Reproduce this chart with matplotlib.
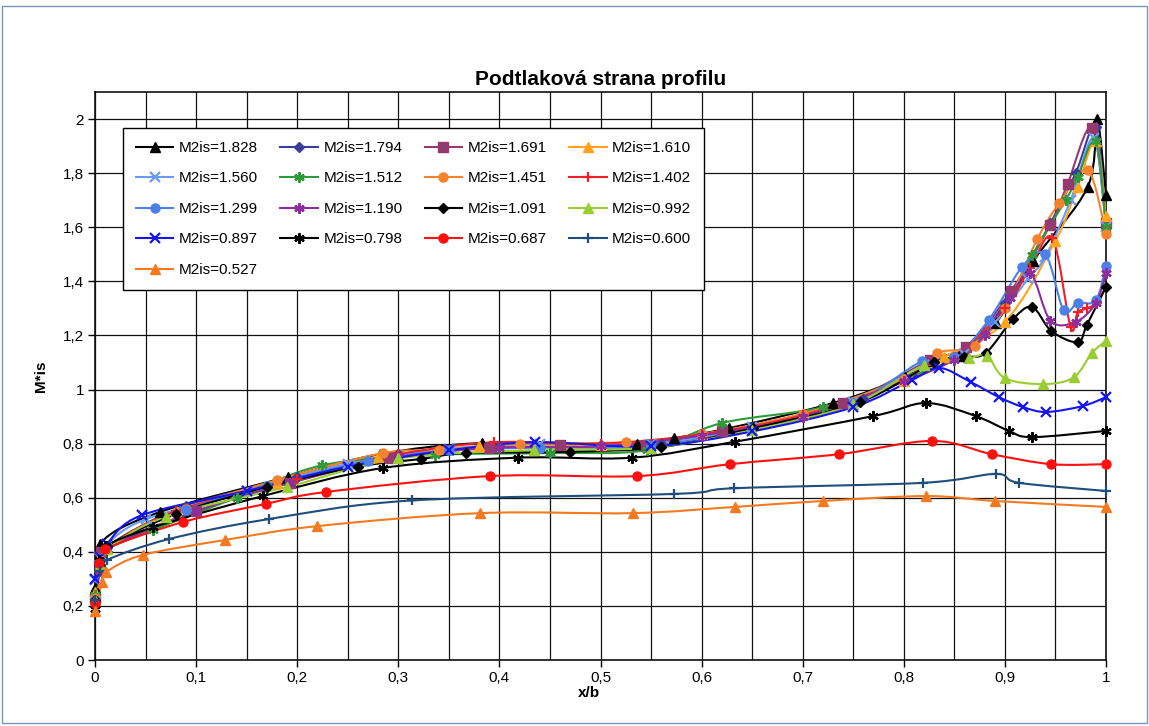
import numpy as np
import matplotlib
matplotlib.use("Agg")
import matplotlib.pyplot as plt
from matplotlib.path import Path
from matplotlib.patches import PathPatch, Rectangle
from matplotlib.lines import Line2D
from matplotlib.ticker import MultipleLocator, FuncFormatter

plt.rcParams['font.family'] = ['Liberation Sans', 'DejaVu Sans']

# ---- measured Mach number distributions (suction side) ----
x_1828 = [0, 0.005, 0.064, 0.191, 0.282, 0.383, 0.536, 0.573, 0.627, 0.73, 0.801, 0.828, 0.855, 0.891, 0.928, 0.982, 0.991, 1.0]
y_1828 = [0.265, 0.43, 0.547, 0.677, 0.761, 0.802, 0.8, 0.82, 0.857, 0.95, 1.046, 1.105, 1.124, 1.245, 1.475, 1.75, 2.0, 1.72]

x_1794 = [0, 0.005, 0.012, 0.09, 0.2, 0.3, 0.4, 0.5, 0.56, 0.65, 0.76, 0.83, 0.86, 0.9, 0.945, 0.97, 0.99, 1.0]
y_1794 = [0.22, 0.345, 0.42, 0.57, 0.675, 0.76, 0.79, 0.795, 0.8, 0.86, 0.965, 1.1, 1.13, 1.32, 1.615, 1.8, 1.97, 1.61]

x_1691 = [0, 0.006, 0.1, 0.193, 0.29, 0.39, 0.46, 0.545, 0.62, 0.74, 0.826, 0.862, 0.906, 0.945, 0.962, 0.986, 1.0]
y_1691 = [0.23, 0.40, 0.55, 0.655, 0.745, 0.785, 0.795, 0.795, 0.845, 0.95, 1.109, 1.157, 1.364, 1.61, 1.76, 1.967, 1.615]

x_1610 = [0, 0.005, 0.012, 0.08, 0.18, 0.28, 0.38, 0.5, 0.6, 0.7, 0.8, 0.84, 0.9, 0.95, 0.972, 0.99, 1.0]
y_1610 = [0.25, 0.35, 0.41, 0.55, 0.655, 0.75, 0.79, 0.795, 0.835, 0.91, 1.03, 1.12, 1.25, 1.55, 1.75, 1.92, 1.64]

x_1560 = [0, 0.004, 0.012, 0.05, 0.15, 0.25, 0.35, 0.44, 0.55, 0.65, 0.75, 0.82, 0.86, 0.89, 0.923, 0.94, 0.965, 0.988, 1.0]
y_1560 = [0.295, 0.38, 0.43, 0.52, 0.625, 0.725, 0.78, 0.8, 0.8, 0.86, 0.955, 1.09, 1.13, 1.25, 1.41, 1.49, 1.7, 1.93, 1.6]

x_1512 = [0, 0.005, 0.012, 0.057, 0.14, 0.225, 0.336, 0.45, 0.546, 0.62, 0.72, 0.8, 0.85, 0.9, 0.927, 0.96, 0.972, 0.99, 1.0]
y_1512 = [0.24, 0.36, 0.41, 0.48, 0.6, 0.72, 0.758, 0.765, 0.776, 0.876, 0.935, 1.04, 1.12, 1.3, 1.497, 1.7, 1.785, 1.92, 1.6]

x_1451 = [0, 0.005, 0.012, 0.09, 0.18, 0.285, 0.34, 0.42, 0.525, 0.6, 0.7, 0.8, 0.833, 0.87, 0.9, 0.932, 0.954, 0.982, 1.0]
y_1451 = [0.23, 0.37, 0.42, 0.56, 0.665, 0.765, 0.775, 0.8, 0.805, 0.835, 0.91, 1.04, 1.135, 1.16, 1.3, 1.556, 1.69, 1.81, 1.575]

x_1402 = [0, 0.005, 0.012, 0.08, 0.2, 0.3, 0.395, 0.5, 0.6, 0.7, 0.8, 0.85, 0.9, 0.925, 0.947, 0.965, 0.972, 0.981, 0.991, 1.0]
y_1402 = [0.22, 0.36, 0.42, 0.55, 0.67, 0.76, 0.805, 0.8, 0.835, 0.905, 1.03, 1.12, 1.3, 1.45, 1.56, 1.23, 1.285, 1.30, 1.32, 1.38]

x_1299 = [0, 0.005, 0.012, 0.09, 0.17, 0.27, 0.35, 0.44, 0.55, 0.65, 0.75, 0.818, 0.85, 0.884, 0.917, 0.94, 0.958, 0.972, 0.99, 1.0]
y_1299 = [0.22, 0.34, 0.42, 0.555, 0.645, 0.735, 0.775, 0.785, 0.79, 0.855, 0.95, 1.105, 1.12, 1.257, 1.453, 1.5, 1.294, 1.32, 1.33, 1.457]

x_1190 = [0, 0.005, 0.012, 0.1, 0.193, 0.3, 0.4, 0.5, 0.6, 0.7, 0.8, 0.85, 0.88, 0.905, 0.925, 0.945, 0.97, 0.99, 1.0]
y_1190 = [0.21, 0.33, 0.41, 0.55, 0.655, 0.75, 0.785, 0.79, 0.83, 0.9, 1.03, 1.11, 1.2, 1.34, 1.43, 1.255, 1.25, 1.32, 1.43]

x_1091 = [0, 0.005, 0.012, 0.08, 0.17, 0.26, 0.322, 0.367, 0.47, 0.56, 0.651, 0.757, 0.83, 0.86, 0.881, 0.908, 0.927, 0.946, 0.972, 0.981, 1.0]
y_1091 = [0.22, 0.35, 0.42, 0.54, 0.64, 0.715, 0.743, 0.765, 0.77, 0.787, 0.857, 0.954, 1.1, 1.12, 1.135, 1.26, 1.305, 1.216, 1.175, 1.238, 1.38]

x_0992 = [0, 0.005, 0.012, 0.07, 0.19, 0.3, 0.434, 0.55, 0.65, 0.75, 0.82, 0.864, 0.882, 0.9, 0.938, 0.968, 0.986, 1.0]
y_0992 = [0.22, 0.35, 0.41, 0.53, 0.64, 0.745, 0.776, 0.785, 0.85, 0.945, 1.09, 1.115, 1.125, 1.042, 1.02, 1.045, 1.135, 1.18]

x_0897 = [0, 0.005, 0.012, 0.046, 0.15, 0.25, 0.35, 0.435, 0.55, 0.65, 0.75, 0.808, 0.835, 0.866, 0.894, 0.918, 0.941, 0.977, 1.0]
y_0897 = [0.3, 0.38, 0.43, 0.535, 0.625, 0.715, 0.775, 0.805, 0.79, 0.845, 0.935, 1.035, 1.08, 1.028, 0.972, 0.935, 0.917, 0.939, 0.972]

x_0798 = [0, 0.004, 0.01, 0.057, 0.166, 0.285, 0.418, 0.531, 0.633, 0.77, 0.822, 0.871, 0.904, 0.927, 1.0]
y_0798 = [0.19, 0.37, 0.42, 0.49, 0.606, 0.71, 0.748, 0.748, 0.807, 0.902, 0.95, 0.902, 0.847, 0.824, 0.847]

x_0687 = [0, 0.004, 0.01, 0.087, 0.169, 0.228, 0.391, 0.536, 0.628, 0.736, 0.828, 0.887, 0.946, 1.0]
y_0687 = [0.21, 0.36, 0.41, 0.51, 0.577, 0.621, 0.68, 0.68, 0.724, 0.761, 0.81, 0.761, 0.724, 0.724]

x_0600 = [0, 0.005, 0.012, 0.073, 0.172, 0.314, 0.573, 0.632, 0.819, 0.891, 0.914, 1.0]
y_0600 = [0.22, 0.33, 0.37, 0.447, 0.521, 0.59, 0.614, 0.635, 0.655, 0.688, 0.655, 0.625]

x_0527 = [0, 0.007, 0.011, 0.047, 0.129, 0.22, 0.381, 0.532, 0.633, 0.72, 0.822, 0.89, 1.0]
y_0527 = [0.18, 0.29, 0.325, 0.388, 0.444, 0.495, 0.543, 0.543, 0.566, 0.588, 0.606, 0.588, 0.566]

ASTERISK = (6, 2, 0)

series = [
    ("M2is=1.828", x_1828, y_1828, '^', '#000000'),
    ("M2is=1.794", x_1794, y_1794, 'D', '#3B3B9E'),
    ("M2is=1.691", x_1691, y_1691, 's', '#953A6E'),
    ("M2is=1.610", x_1610, y_1610, '^', '#FFA31A'),
    ("M2is=1.560", x_1560, y_1560, 'x', '#6A9BF4'),
    ("M2is=1.512", x_1512, y_1512, ASTERISK, '#2E9A3A'),
    ("M2is=1.451", x_1451, y_1451, 'o', '#F5822F'),
    ("M2is=1.402", x_1402, y_1402, '+', '#F0202A'),
    ("M2is=1.299", x_1299, y_1299, 'o', '#4A80E8'),
    ("M2is=1.190", x_1190, y_1190, ASTERISK, '#8E2E9E'),
    ("M2is=1.091", x_1091, y_1091, 'D', '#000000'),
    ("M2is=0.992", x_0992, y_0992, '^', '#9ACD32'),
    ("M2is=0.897", x_0897, y_0897, 'x', '#1515F0'),
    ("M2is=0.798", x_0798, y_0798, ASTERISK, '#000000'),
    ("M2is=0.687", x_0687, y_0687, 'o', '#FF1010'),
    ("M2is=0.600", x_0600, y_0600, '+', '#1F4E7A'),
    ("M2is=0.527", x_0527, y_0527, '^', '#F47A22'),
]


def smooth_path(xs, ys):
    """Cubic Bezier path through the points (Catmull-Rom style tangents)."""
    p = np.column_stack([xs, ys]).astype(float)
    n = len(p)
    verts = [p[0]]
    codes = [Path.MOVETO]
    for i in range(n - 1):
        p0 = p[i - 1] if i > 0 else p[i]
        p1 = p[i]
        p2 = p[i + 1]
        p3 = p[i + 2] if i + 2 < n else p[i + 1]
        c1 = p1 + (p2 - p0) / 6.0
        c2 = p2 - (p3 - p1) / 6.0
        verts += [c1, c2, p2]
        codes += [Path.CURVE4] * 3
    return Path(verts, codes)


def marker_kw(m, c):
    kw = dict(marker=m, color=c, markersize=6.5, markeredgecolor=c, markerfacecolor=c)
    if m in ('x', '+') or m == ASTERISK:
        kw.update(markersize=7.5, markeredgewidth=1.6)
    if m == 'D':
        kw.update(markersize=5.5)
    return kw


fig = plt.figure(figsize=(11.49, 7.26), dpi=100)
fig.patch.set_facecolor('white')
fig.patches.append(Rectangle((0.002, 0.004), 0.996, 0.988, transform=fig.transFigure,
                             fill=False, edgecolor='#7A96C2', linewidth=1.0))

ax = fig.add_axes([95 / 1149, 1 - 660 / 726, 1011 / 1149, 568 / 726])
ax.set_xlim(0, 1)
ax.set_ylim(0, 2.1)

handles = []
for label, xs, ys, m, c in series:
    ax.add_patch(PathPatch(smooth_path(xs, ys), fill=False, edgecolor=c,
                           linewidth=1.5, zorder=3))
    ax.plot(xs, ys, linestyle='none', zorder=4, clip_on=False, **marker_kw(m, c))
    handles.append(Line2D([], [], linestyle='-', linewidth=1.5, label=label,
                          **marker_kw(m, c)))

# grid and ticks
ax.xaxis.set_major_locator(MultipleLocator(0.1))
ax.xaxis.set_minor_locator(MultipleLocator(0.05))
ax.yaxis.set_major_locator(MultipleLocator(0.2))
comma = FuncFormatter(lambda v, pos: ('%g' % round(v, 2)).replace('.', ','))
ax.xaxis.set_major_formatter(comma)
ax.yaxis.set_major_formatter(comma)
ax.grid(which='major', axis='both', color='#111111', linewidth=0.9, zorder=0)
ax.grid(which='minor', axis='x', color='#111111', linewidth=0.9, zorder=0)
ax.set_axisbelow(True)
ax.tick_params(which='major', direction='out', length=5, width=1, color='black',
               labelsize=11, pad=3)
ax.tick_params(which='minor', length=0)
for s in ax.spines.values():
    s.set_color('#111111')
    s.set_linewidth(1.2)

ax.set_title('Podtlaková strana profilu', fontsize=15, fontweight='bold', pad=5,
             family=['Liberation Sans Narrow', 'Liberation Sans'])
ax.set_xlabel('x/b', fontsize=11, fontweight='bold', labelpad=-3)
ax.xaxis.set_label_coords(0.489, -0.045)
ax.set_ylabel('M*is', fontsize=11, fontweight='bold')
ax.yaxis.set_label_coords(-0.046, 0.5)

# legend reads row by row: reorder so column-wise filling gives that layout
ncol = 4
order = []
for col in range(ncol):
    order += list(range(col, len(handles), ncol))
leg = ax.legend(handles=[handles[i] for i in order], ncol=ncol, loc='upper left',
                bbox_to_anchor=(0.0277, 0.9366), borderaxespad=0, fontsize=11,
                handlelength=2.45, handletextpad=0.37, columnspacing=1.45,
                labelspacing=1.08, borderpad=0.85, frameon=True, fancybox=False,
                framealpha=1, edgecolor='black')
leg.get_frame().set_linewidth(1.0)
leg.set_zorder(10)

fig.savefig('out.png', dpi=100)
